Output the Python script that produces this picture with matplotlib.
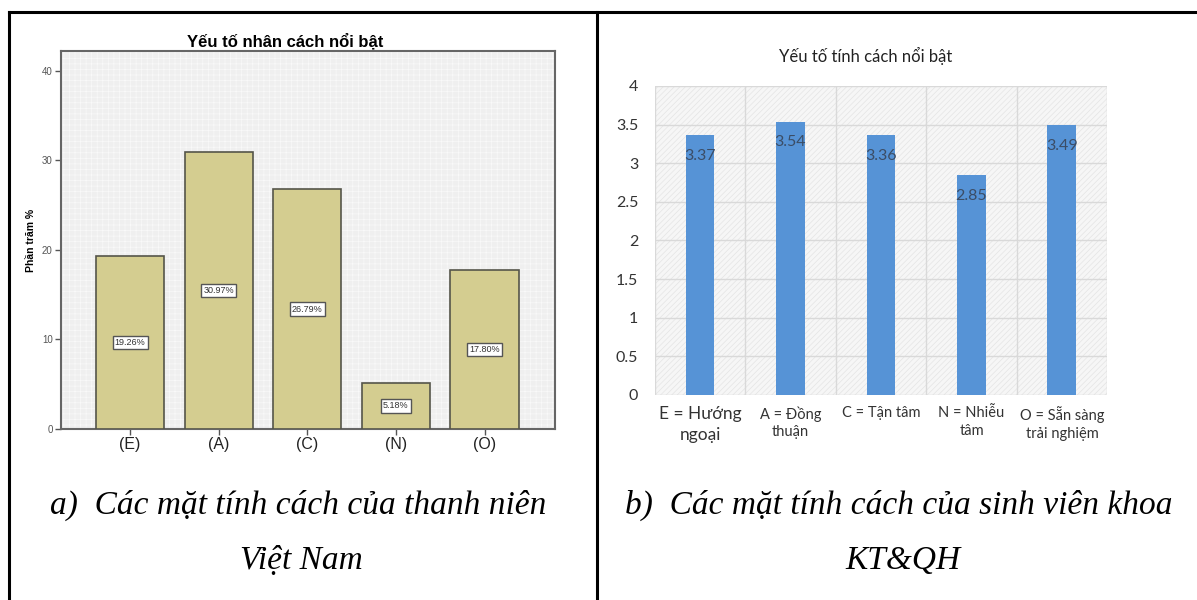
import matplotlib.pyplot as plt
from matplotlib.patches import Rectangle
import numpy as np

# left panel: share of each dominant trait among Vietnamese youth (%)
traits_short = ['(E)', '(A)', '(C)', '(N)', '(O)']
youth_pct = [19.26, 30.97, 26.79, 5.18, 17.80]

# right panel: mean score of each trait for KT&QH students
traits_long = ['E = Hướng\nngoại', 'A = Đồng\nthuận', 'C = Tận tâm',
               'N = Nhiễu\ntâm', 'O = Sẵn sàng\ntrải nghiệm']
student_mean = [3.37, 3.54, 3.36, 2.85, 3.49]

left_yticks = [0, 10, 20, 30, 40]
right_yticks = [0, 0.5, 1, 1.5, 2, 2.5, 3, 3.5, 4]

plt.rcParams['hatch.linewidth'] = 0.5

fig = plt.figure(figsize=(11.97, 6.0), dpi=100)
fig.patch.set_facecolor('white')

# ---- left: SPSS style bar chart ----
ax1 = fig.add_axes([0.051, 0.285, 0.413, 0.63])
ax1.set_facecolor('#efefef')
ax1.add_patch(Rectangle((0, 0), 1, 1, transform=ax1.transAxes, facecolor='none',
                        edgecolor='#f9f9f9', linewidth=0, hatch='+++', zorder=0))
x1 = np.arange(len(traits_short))
ax1.bar(x1, youth_pct, width=0.77, color='#d4cd90',
        edgecolor='#55554a', linewidth=1.2, zorder=3)
for xi, v in zip(x1, youth_pct):
    ax1.text(xi, v / 2, f'{v:.2f}%', ha='center', va='center', fontsize=6.5,
             family='Liberation Sans', color='#333333', zorder=5,
             bbox=dict(boxstyle='square,pad=0.25', fc='white', ec='#555555', lw=1.0))
ax1.set_xlim(-0.78, 4.8)
ax1.set_ylim(0, 42.2)
ax1.set_xticks(x1)
ax1.set_xticklabels(traits_short, fontsize=11.5, family='Liberation Sans', color='#222222')
ax1.set_yticks(left_yticks)
ax1.set_yticklabels([str(t) for t in left_yticks], fontsize=7, color='#555555',
                    family='Liberation Sans')
ax1.tick_params(axis='both', length=4, width=1, color='#555555', pad=2)
for s in ax1.spines.values():
    s.set_color('#666666')
    s.set_linewidth(1.5)
fig.text(0.238, 0.917, 'Yếu tố nhân cách nổi bật', ha='center', va='bottom',
         fontsize=12, fontweight='bold', family='Liberation Sans')
fig.text(0.026, 0.60, 'Phần trăm %', ha='center', va='center', rotation=90,
         fontsize=7.5, fontweight='bold', family='Liberation Sans')

# ---- right: Excel style column chart ----
ax2 = fig.add_axes([0.547, 0.3417, 0.378, 0.515])
ax2.set_facecolor('#f6f6f6')
ax2.add_patch(Rectangle((0, 0), 1, 1, transform=ax2.transAxes, facecolor='none',
                        edgecolor='#e4e4e4', linewidth=0, hatch='//////', zorder=0))
x2 = np.arange(len(traits_long))
ax2.bar(x2, student_mean, width=0.32, color='#5693d6', zorder=3)
for xi, v in zip(x2, student_mean):
    ax2.text(xi, v - 0.27, f'{v:.2f}', ha='center', va='center', fontsize=11.5,
             family='Lato', color='#3b4d66', zorder=4)
ax2.set_xlim(-0.5, 4.5)
ax2.set_ylim(0, 4)
ax2.set_yticks(right_yticks)
ax2.set_yticklabels([f'{t:g}' for t in right_yticks], fontsize=11.5,
                    family='Lato', color='#333333')
ax2.set_xticks(x2)
ax2.set_xticklabels(traits_long, fontsize=10.5, family='Lato', color='#333333',
                    va='top', linespacing=1.35)
ax2.get_xticklabels()[0].set_fontsize(12.5)
ax2.tick_params(axis='y', length=0, pad=12)
ax2.tick_params(axis='x', length=0, pad=8)
ax2.set_xticks(np.arange(-0.5, 5.0, 1.0), minor=True)
ax2.tick_params(which='minor', length=0)
ax2.grid(True, axis='y', color='#d9d9d9', linewidth=1, zorder=1)
ax2.grid(True, axis='x', which='minor', color='#d9d9d9', linewidth=1, zorder=1)
for s in ax2.spines.values():
    s.set_visible(False)
fig.text(0.7235, 0.907, 'Yếu tố tính cách nổi bật', ha='center', va='center',
         fontsize=12, family='Lato', color='#222222')

# ---- captions ----
cap = dict(ha='center', va='center', fontsize=24, style='italic',
           family='Liberation Serif')
fig.text(0.249, 0.158, 'a)  Các mặt tính cách của thanh niên', **cap)
fig.text(0.252, 0.065, 'Việt Nam', **cap)
fig.text(0.751, 0.158, 'b)  Các mặt tính cách của sinh viên khoa', **cap)
fig.text(0.754, 0.065, 'KT&QH', **cap)

# ---- table borders ----
border = dict(color='black', linewidth=2.2, transform=fig.transFigure, clip_on=False)
fig.add_artist(plt.Line2D([0.0075, 1.0], [0.98, 0.98], **border))
fig.add_artist(plt.Line2D([0.0075, 0.0075], [0.0, 0.98], **border))
fig.add_artist(plt.Line2D([0.4987, 0.4987], [0.0, 0.98], **border))

fig.savefig('out.png', dpi=100)
